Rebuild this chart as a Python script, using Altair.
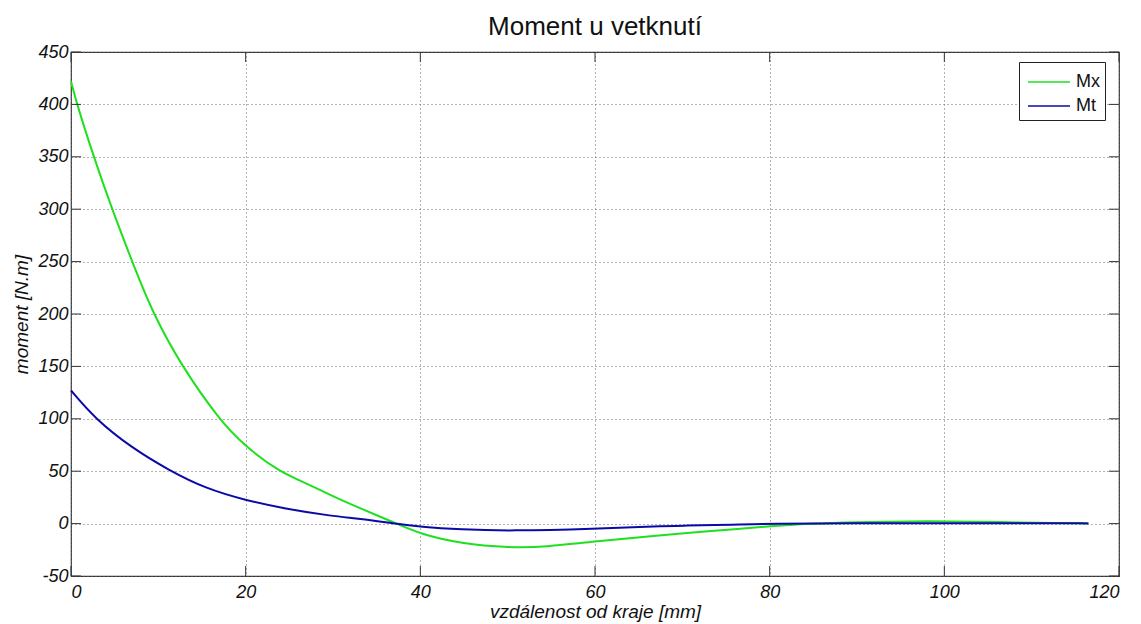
import altair as alt
import pandas as pd

# Mx series (distance in mm, moment in N.m)
x_mx = [0, 0.65, 2.6, 4.7, 7.0, 9.4, 12.7, 16.9, 20, 24, 26.2, 30, 33, 37, 40,
        44.6, 50.3, 54.2, 60, 67.5, 72, 80, 84.4, 90, 96.6, 100, 107, 110, 116.5]
mx = [422, 401, 350, 300, 250, 200, 150, 100, 73, 49, 41.4, 26, 15, 1, -10,
      -19, -23, -22.4, -17, -11, -8, -2.6, 0, 1.5, 2.2, 2.2, 1.5, 0.8, 0.3]

# Mt series
x_mt = [0, 2.75, 7, 11.2, 15.4, 20, 24.4, 30, 33, 37, 40, 44.6, 50.3, 60,
        67.5, 70, 76, 80, 90, 100, 110, 116.5]
mt = [127, 100, 72, 51, 33.5, 22.3, 14.3, 7, 4.8, 0, -3.2, -5.7, -7, -5,
      -2.3, -2, -1, 0, 0.3, 0.4, 0.3, 0.2]

series_names = ["Mx", "Mt"]
series_colors = ["#1fe01f", "#0a0aa8"]
x_ticks = [0, 20, 40, 60, 80, 100, 120]
y_ticks = [-50, 0, 50, 100, 150, 200, 250, 300, 350, 400, 450]

W, H = 1048, 524
TICK = 10

df = pd.concat([
    pd.DataFrame({"x": x_mx, "v": mx, "series": "Mx"}),
    pd.DataFrame({"x": x_mt, "v": mt, "series": "Mt"}),
], ignore_index=True)
xt = pd.DataFrame({"t": x_ticks})
yt = pd.DataFrame({"t": y_ticks})

FONT = "Liberation Sans"
AX = "#333333"
TXT = "#111111"
xs = alt.Scale(domain=[0, 120], nice=False)
ys = alt.Scale(domain=[-50, 450], nice=False)

main = alt.Chart(df).mark_line(strokeWidth=2, interpolate="basis").encode(
    x=alt.X("x:Q", scale=xs, title="vzdálenost od kraje [mm]",
            axis=alt.Axis(orient="bottom", values=x_ticks, grid=True, gridDash=[1, 3],
                          gridColor="#666666", gridOpacity=1, tickSize=0, labelPadding=7,
                          domain=False, labelFont=FONT, labelFontSize=18,
                          labelFontStyle="italic", labelColor=TXT,
                          labelExpr="toString(datum.value)",
                          titleFont=FONT, titleFontSize=19, titleFontStyle="italic",
                          titleFontWeight="normal", titleColor=TXT, titlePadding=1)),
    y=alt.Y("v:Q", scale=ys, title="moment [N.m]",
            axis=alt.Axis(orient="left", values=y_ticks, grid=True, gridDash=[1, 3],
                          gridColor="#666666", gridOpacity=1, tickSize=0, labelPadding=3,
                          domain=False, labelFont=FONT, labelFontSize=18,
                          labelFontStyle="italic", labelColor=TXT,
                          labelExpr="toString(datum.value)",
                          titleFont=FONT, titleFontSize=19, titleFontStyle="italic",
                          titleFontWeight="normal", titleColor=TXT, titlePadding=6)),
    color=alt.Color("series:N", sort=series_names,
                    scale=alt.Scale(domain=series_names, range=series_colors),
                    legend=alt.Legend(title=None, orient="none", legendX=948, legendY=10,
                                      direction="vertical",
                                      symbolType="M-1.5,0H1.5", symbolSize=784,
                                      symbolStrokeWidth=1.5, symbolOffset=10,
                                      labelFont=FONT, labelFontSize=18, labelColor=TXT,
                                      labelOffset=12, rowPadding=0, padding=5,
                                      strokeColor="#222222", fillColor="white")),
)

# inward pointing ticks on all four sides
y_left = alt.Chart(yt).mark_rule(color=AX, strokeWidth=1).encode(
    y=alt.Y("t:Q", scale=ys), x=alt.value(0), x2=alt.value(TICK))
y_right = alt.Chart(yt).mark_rule(color=AX, strokeWidth=1).encode(
    y=alt.Y("t:Q", scale=ys), x=alt.value(W - TICK), x2=alt.value(W))
x_bottom = alt.Chart(xt).mark_rule(color=AX, strokeWidth=1).encode(
    x=alt.X("t:Q", scale=xs), y=alt.value(H - TICK), y2=alt.value(H))
x_top = alt.Chart(xt).mark_rule(color=AX, strokeWidth=1).encode(
    x=alt.X("t:Q", scale=xs), y=alt.value(0), y2=alt.value(TICK))

chart = alt.layer(main, y_left, y_right, x_bottom, x_top).properties(
    width=W, height=H,
    title=alt.Title("Moment u vetknutí", font=FONT, fontSize=26, fontWeight="normal",
                    color=TXT, anchor="middle", offset=3),
    autosize=alt.AutoSizeParams(type="none"),
    padding={"left": 71, "top": 52, "right": 22, "bottom": 48},
    background="white",
).configure_view(stroke=AX, strokeWidth=1.2)

chart.save("out.html", embed_options={"renderer": "svg", "actions": False})
